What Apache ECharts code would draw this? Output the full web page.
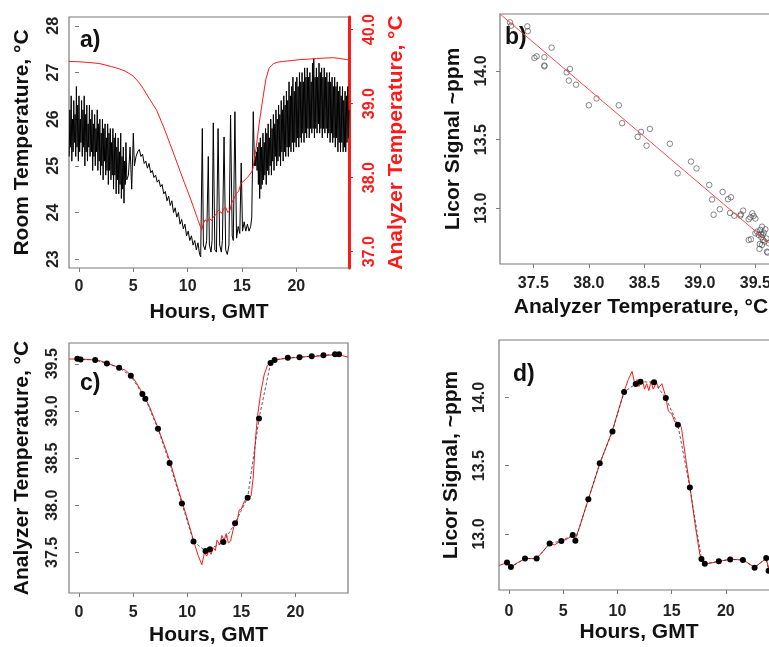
<!DOCTYPE html>
<html>
<head>
<meta charset="utf-8">
<script src="https://cdn.jsdelivr.net/npm/echarts@6/dist/echarts.min.js"></script>
<style>
  html, body { margin: 0; padding: 0; background: #fff; }
  #chart { width: 769px; height: 647px; }
</style>
</head>
<body>
<div id="chart"></div>
<script>
// tick labels
const hourTicks = [0, 5, 10, 15, 20];
const roomTicks = [23, 24, 25, 26, 27, 28];
const analyzerTicksA = [37, 38, 39, 40];
const analyzerTicksC = [37.5, 38, 38.5, 39, 39.5];
const scatterTempTicks = [37.5, 38, 38.5, 39, 39.5];
const licorTicks = [13, 13.5, 14];

// a) room temperature [hour, °C]
const roomTemp = [
  [-0.90, 25.2], [-0.84, 26.2], [-0.78, 25.4], [-0.72, 26.5], [-0.66, 25.1], [-0.60, 26.0], [-0.54, 25.3], [-0.48, 26.4],
  [-0.42, 25.5], [-0.36, 26.1], [-0.30, 25.2], [-0.24, 26.7], [-0.18, 25.4], [-0.12, 26.3], [-0.06, 25.1], [0.00, 26.5],
  [0.06, 25.3], [0.12, 26.0], [0.18, 25.5], [0.24, 26.4], [0.30, 25.2], [0.36, 26.2], [0.42, 25.4], [0.48, 26.5],
  [0.54, 25.0], [0.60, 26.1], [0.66, 25.3], [0.72, 26.3], [0.78, 25.1], [0.84, 25.9], [0.90, 25.4], [0.96, 26.3],
  [1.02, 25.2], [1.08, 26.0], [1.14, 25.3], [1.20, 26.2], [1.26, 24.9], [1.32, 25.9], [1.38, 25.2], [1.44, 26.1],
  [1.50, 25.0], [1.56, 25.8], [1.62, 25.3], [1.68, 26.2], [1.74, 24.9], [1.80, 25.9], [1.86, 25.1], [1.92, 26.0],
  [1.98, 24.8], [2.04, 25.7], [2.10, 25.0], [2.16, 26.0], [2.22, 24.7], [2.28, 25.8], [2.34, 25.1], [2.40, 25.9],
  [2.46, 24.8], [2.52, 25.6], [2.58, 24.9], [2.64, 25.9], [2.70, 24.6], [2.76, 25.7], [2.82, 24.9], [2.88, 25.8],
  [2.94, 24.7], [3.00, 25.5], [3.06, 24.8], [3.12, 25.8], [3.18, 24.5], [3.24, 25.6], [3.30, 24.8], [3.36, 25.7],
  [3.42, 24.4], [3.48, 25.4], [3.54, 24.7], [3.60, 25.6], [3.66, 24.4], [3.72, 25.3], [3.78, 24.6], [3.84, 25.7],
  [3.90, 24.3], [3.96, 25.2], [4.02, 24.5], [4.08, 25.4], [4.14, 24.2], [4.20, 25.1], [4.26, 24.6], [4.32, 25.5],
  [4.40, 24.7], [4.55, 24.8], [4.7, 25.4], [4.85, 24.5], [5.0, 25.7], [5.1, 25.0], [5.25, 25.2], [5.4, 25.3],
  [5.55, 25.35], [5.7, 25.2], [5.85, 25.25], [6.0, 25.05], [6.15, 25.1], [6.3, 24.95], [6.45, 25.05], [6.6, 24.85],
  [6.75, 24.9], [6.9, 24.75], [7.05, 24.8], [7.2, 24.65], [7.35, 24.7], [7.5, 24.55], [7.65, 24.6], [7.8, 24.4],
  [7.95, 24.45], [8.1, 24.25], [8.25, 24.35], [8.4, 24.15], [8.55, 24.25], [8.7, 24.0], [8.85, 24.1], [9.0, 23.9],
  [9.15, 24.0], [9.3, 23.75], [9.45, 23.85], [9.6, 23.65], [9.75, 23.75], [9.9, 23.5], [10.05, 23.6], [10.2, 23.4],
  [10.35, 23.5], [10.5, 23.3], [10.65, 23.4], [10.8, 23.2], [10.95, 23.35], [11.1, 23.1], [11.2, 23.05], [11.35, 25.8],
  [11.45, 23.3], [11.6, 23.2], [11.75, 23.4], [11.9, 25.2], [12.0, 23.3], [12.15, 23.15], [12.25, 23.4], [12.36, 25.92],
  [12.5, 23.2], [12.65, 23.15], [12.8, 25.8], [12.95, 23.3], [13.1, 23.15], [13.2, 23.4], [13.35, 25.62], [13.5, 23.2],
  [13.65, 23.1], [13.8, 23.3], [13.95, 26.09], [14.1, 23.5], [14.2, 23.4], [14.35, 26.16], [14.5, 23.45], [14.65, 23.7],
  [14.8, 23.55], [14.93, 25.06], [15.05, 23.6], [15.2, 23.8], [15.35, 23.6], [15.5, 23.75], [15.65, 23.6], [15.8, 23.7],
  [15.9, 23.9], [16.04, 26.16], [16.15, 25.0], [16.21, 25.2], [16.27, 25.0], [16.33, 25.3], [16.39, 24.9], [16.45, 25.4],
  [16.51, 24.6], [16.57, 25.5], [16.63, 24.3], [16.69, 25.6], [16.75, 24.5], [16.81, 25.4], [16.87, 24.6], [16.93, 25.7],
  [16.99, 24.7], [17.05, 25.5], [17.11, 24.8], [17.17, 25.8], [17.23, 24.6], [17.29, 25.7], [17.35, 24.9], [17.41, 25.9],
  [17.47, 24.8], [17.53, 25.6], [17.59, 25.0], [17.65, 26.0], [17.71, 24.8], [17.77, 25.8], [17.83, 25.1], [17.89, 26.1],
  [17.95, 24.9], [18.01, 25.9], [18.07, 25.2], [18.13, 26.2], [18.19, 25.0], [18.25, 26.0], [18.31, 25.1], [18.37, 26.3],
  [18.43, 25.2], [18.49, 26.1], [18.55, 25.0], [18.61, 26.4], [18.67, 25.3], [18.73, 26.2], [18.79, 25.1], [18.85, 26.5],
  [18.91, 25.3], [18.97, 26.3], [19.03, 25.2], [19.09, 26.6], [19.15, 25.4], [19.21, 26.4], [19.27, 25.2], [19.33, 26.8],
  [19.39, 25.4], [19.45, 26.5], [19.51, 25.3], [19.57, 26.7], [19.63, 25.5], [19.69, 26.9], [19.75, 25.3], [19.81, 26.6],
  [19.87, 25.5], [19.93, 26.8], [19.99, 25.4], [20.05, 26.9], [20.11, 25.6], [20.17, 26.7], [20.23, 25.4], [20.29, 27.0],
  [20.35, 25.6], [20.41, 26.8], [20.47, 25.5], [20.53, 27.0], [20.59, 25.7], [20.65, 26.8], [20.71, 25.5], [20.77, 27.1],
  [20.83, 25.7], [20.89, 26.9], [20.95, 25.6], [21.01, 27.1], [21.07, 25.8], [21.13, 26.9], [21.19, 25.6], [21.25, 27.0],
  [21.31, 25.8], [21.37, 26.8], [21.43, 25.7], [21.49, 27.2], [21.55, 25.8], [21.61, 27.3], [21.67, 25.6], [21.73, 26.9],
  [21.79, 25.8], [21.85, 27.1], [21.91, 25.7], [21.97, 26.9], [22.03, 25.9], [22.09, 27.2], [22.15, 25.7], [22.21, 27.0],
  [22.27, 25.8], [22.33, 27.1], [22.39, 25.6], [22.45, 26.9], [22.51, 25.8], [22.57, 27.1], [22.63, 25.7], [22.69, 26.9],
  [22.75, 25.8], [22.81, 27.0], [22.87, 25.6], [22.93, 26.8], [22.99, 25.7], [23.05, 27.0], [23.11, 25.5], [23.17, 26.8],
  [23.23, 25.7], [23.29, 26.9], [23.35, 25.5], [23.41, 26.7], [23.47, 25.6], [23.53, 26.9], [23.59, 25.4], [23.65, 26.7],
  [23.71, 25.6], [23.77, 26.8], [23.83, 25.3], [23.89, 26.6], [23.95, 25.5], [24.01, 26.7], [24.07, 25.3], [24.13, 26.5],
  [24.19, 25.5], [24.25, 26.7], [24.31, 25.3], [24.37, 26.4], [24.43, 25.4], [24.49, 26.6], [24.55, 25.3], [24.61, 26.5],
  [24.67, 25.5], [24.73, 26.7], [24.79, 25.6], [24.85, 26.2]
];

// a) analyzer temperature, right axis [hour, °C]
const analyzerTempA = [
  [-0.92, 39.57], [0, 39.565], [1, 39.555], [1.93, 39.54], [3, 39.5], [3.7, 39.47], [4.23, 39.44], [4.6, 39.41],
  [5.0, 39.37], [5.5, 39.29], [5.92, 39.2], [6.5, 39.06], [7.15, 38.91], [7.8, 38.68], [8.37, 38.46], [9.0, 38.21],
  [9.6, 37.97], [10.1, 37.78], [10.52, 37.61], [10.9, 37.45], [11.29, 37.29], [11.45, 37.38], [11.6, 37.43], [11.8, 37.41],
  [12.0, 37.45], [12.2, 37.42], [12.36, 37.47], [12.6, 37.5], [12.8, 37.56], [12.98, 37.58], [13.15, 37.52], [13.3, 37.58],
  [13.5, 37.6], [13.7, 37.53], [13.9, 37.56], [14.05, 37.66], [14.2, 37.7], [14.5, 37.79], [14.7, 37.82], [14.9, 37.92],
  [15.28, 37.97], [15.6, 38.02], [15.9, 38.08], [16.0, 38.12], [16.3, 38.4], [16.6, 38.75], [16.9, 39.05], [17.2, 39.33],
  [17.5, 39.48], [17.9, 39.54], [18.3, 39.56], [18.8, 39.57], [19.5, 39.58], [20.34, 39.595], [21.1, 39.6], [21.87, 39.61],
  [22.6, 39.615], [23.4, 39.62], [24.0, 39.61], [24.6, 39.595], [24.85, 39.59]
];

// b) licor signal vs analyzer temperature [°C, ppm]
const scatterPoints = [
  [37.29, 14.354], [37.30, 14.33], [37.446, 14.325], [37.45, 14.29], [37.665, 14.17], [37.51, 14.095], [37.53, 14.107],
  [37.60, 14.10], [37.60, 14.04], [37.60, 14.034], [37.80, 13.99], [37.83, 14.015], [37.82, 13.93], [37.885, 13.90],
  [38.00, 13.75], [38.07, 13.80], [38.27, 13.75], [38.30, 13.62], [38.44, 13.52], [38.47, 13.556], [38.52, 13.456],
  [38.55, 13.578], [38.73, 13.47], [38.80, 13.255], [38.92, 13.34], [38.97, 13.29], [39.085, 13.17], [39.11, 13.064],
  [39.124, 12.953], [39.18, 12.993], [39.205, 13.119], [39.254, 13.066], [39.28, 13.08], [39.272, 12.966], [39.31, 12.946],
  [39.365, 12.946], [39.37, 12.956], [39.39, 12.983], [39.44, 12.92], [39.455, 12.934], [39.473, 12.963], [39.485, 12.944],
  [39.50, 12.925], [39.44, 12.769], [39.46, 12.774], [39.5, 12.818], [39.515, 12.83], [39.53, 12.806], [39.545, 12.842],
  [39.56, 12.866], [39.575, 12.822], [39.59, 12.847], [39.554, 12.789], [39.57, 12.769], [39.54, 12.74], [39.537, 12.704],
  [39.56, 12.733], [39.584, 12.757], [39.6, 12.78], [39.605, 12.684], [39.61, 12.677], [39.62, 12.745], [39.55, 12.813],
  [39.566, 12.806]
];
const fitLine = [[37.2, 14.415], [39.74, 12.669]];

// c) analyzer temperature, hourly means and trace [hour, °C]
const analyzerDots = [
  [-0.15, 39.553], [0.15, 39.546], [1.5, 39.54], [2.58, 39.504], [3.71, 39.457], [4.79, 39.372], [5.86, 39.18],
  [6.13, 39.13], [7.3, 38.81], [8.37, 38.447], [9.51, 38.018], [10.58, 37.617], [11.69, 37.514], [12.09, 37.535],
  [13.34, 37.61], [14.42, 37.81], [15.58, 38.08], [16.63, 38.92], [17.7, 39.507], [18.07, 39.54], [19.29, 39.564],
  [20.37, 39.57], [21.5, 39.58], [22.58, 39.59], [23.65, 39.6], [24.02, 39.6]
];
const analyzerTrace = [
  [-0.9, 39.55], [0, 39.55], [1, 39.545], [2, 39.53], [3, 39.49], [3.7, 39.46], [4.3, 39.43], [4.8, 39.38],
  [5.3, 39.3], [5.9, 39.18], [6.5, 39.05], [7.3, 38.82], [8.0, 38.6], [8.5, 38.43], [9.0, 38.23], [9.6, 38.01],
  [10.1, 37.82], [10.6, 37.62], [11.0, 37.47], [11.35, 37.37], [11.6, 37.5], [11.8, 37.46], [12.0, 37.52], [12.2, 37.48],
  [12.4, 37.55], [12.6, 37.52], [12.75, 37.63], [13.0, 37.58], [13.2, 37.68], [13.4, 37.63], [13.6, 37.7], [13.8, 37.6],
  [14.0, 37.62], [14.3, 37.77], [14.6, 37.82], [14.8, 37.95], [15.0, 37.96], [15.3, 38.05], [15.6, 38.07], [15.9, 38.1],
  [16.1, 38.3], [16.3, 38.7], [16.5, 38.95], [16.8, 39.2], [17.1, 39.38], [17.4, 39.48], [17.7, 39.52], [18.1, 39.54],
  [19, 39.555], [20, 39.565], [21, 39.575], [22, 39.58], [23, 39.59], [24, 39.595], [24.85, 39.57]
];

// d) licor signal, hourly means and trace [hour, ppm]
const licorDots = [
  [-0.18, 12.792], [0.18, 12.758], [1.48, 12.82], [2.55, 12.82], [3.75, 12.93], [4.83, 12.949], [5.88, 12.993],
  [6.12, 12.951], [7.32, 13.254], [8.37, 13.518], [9.54, 13.75], [10.62, 14.04], [11.69, 14.098], [12.12, 14.115],
  [13.38, 14.11], [14.46, 13.995], [15.57, 13.8], [16.68, 13.34], [17.75, 12.817], [18.06, 12.782], [19.35, 12.8],
  [20.4, 12.814], [21.57, 12.81], [22.65, 12.753], [23.72, 12.824], [23.94, 12.73]
];
const licorTrace = [
  [-0.9, 12.77], [-0.2, 12.79], [0.2, 12.76], [0.8, 12.79], [1.5, 12.82], [2.5, 12.82], [3.0, 12.86], [3.75, 12.93],
  [4.2, 12.92], [4.8, 12.95], [5.3, 12.96], [5.9, 12.99], [6.1, 12.96], [6.5, 13.05], [7.3, 13.25], [8.4, 13.52],
  [9.5, 13.75], [10.6, 14.04], [11.0, 14.13], [11.35, 14.19], [11.6, 14.1], [11.8, 14.13], [12.0, 14.08], [12.3, 14.13],
  [12.5, 14.06], [12.7, 14.1], [12.9, 14.05], [13.1, 14.12], [13.3, 14.06], [13.6, 14.11], [13.8, 14.07], [14.1, 14.1],
  [14.4, 14.02], [14.7, 13.9], [15.0, 13.88], [15.3, 13.82], [15.7, 13.81], [15.9, 13.78], [16.3, 13.55], [16.7, 13.34],
  [17.2, 13.05], [17.6, 12.85], [17.9, 12.78], [18.5, 12.785], [19.4, 12.8], [20.4, 12.815], [21.6, 12.81], [22.0, 12.79],
  [22.65, 12.755], [23.2, 12.79], [23.7, 12.82], [24.0, 12.74], [24.9, 12.76]
];

const font = "'Liberation Sans', Arial, sans-serif";
const frame = '#7a7a7a';
const ink = '#111';
const red = '#ff1a1a';

function textStyle(size, color) {
  return { fontFamily: font, fontWeight: 'bold', fontSize: size, color: color || ink };
}

function xAxisFor(gridIndex, min, max, ticks, decimals, title, margin, nameGap) {
  return {
    type: 'value', gridIndex, min, max,
    name: title, nameLocation: 'middle', nameGap,
    nameTextStyle: textStyle(21),
    axisLine: { show: false },
    axisTick: { show: true, length: 4, customValues: ticks, lineStyle: { color: frame } },
    axisLabel: Object.assign({ customValues: ticks, margin, formatter: v => v.toFixed(decimals) }, textStyle(16, '#222')),
    splitLine: { show: false }
  };
}

function yAxisFor(gridIndex, min, max, ticks, decimals, title, margin, nameGap, color, position) {
  const c = color || frame;
  return {
    type: 'value', gridIndex, min, max, position: position || 'left',
    name: title, nameLocation: 'middle', nameGap, nameRotate: 90,
    nameTextStyle: textStyle(21, color),
    axisLine: { show: !!color, lineStyle: { color: c, width: 3 } },
    axisTick: { show: true, length: 4, customValues: ticks, lineStyle: { color: c } },
    axisLabel: Object.assign({ customValues: ticks, margin, rotate: 90, formatter: v => v.toFixed(decimals) }, textStyle(16, color || '#222')),
    splitLine: { show: false }
  };
}

const chart = echarts.init(document.getElementById('chart'));

const gridBase = { show: true, borderColor: frame, borderWidth: 1.2, backgroundColor: 'transparent', outerBoundsMode: 'none' };

chart.setOption({
  animation: false,
  backgroundColor: '#fff',
  grid: [
    Object.assign({ left: 69, top: 17, width: 280, height: 251 }, gridBase),
    Object.assign({ left: 500, top: 14, width: 282, height: 250 }, gridBase),
    Object.assign({ left: 69, top: 343, width: 279, height: 250 }, gridBase),
    Object.assign({ left: 499, top: 340, width: 280, height: 250 }, gridBase)
  ],
  xAxis: [
    xAxisFor(0, -0.92, 24.85, hourTicks, 0, 'Hours, GMT', 11, 34),
    xAxisFor(1, 37.2, 39.74, scatterTempTicks, 1, 'Analyzer Temperature, °C', 12, 33),
    xAxisFor(2, -0.92, 24.85, hourTicks, 0, 'Hours, GMT', 12, 32),
    xAxisFor(3, -0.92, 24.9, hourTicks, 0, 'Hours, GMT', 14, 32)
  ],
  yAxis: [
    yAxisFor(0, 22.81, 28.19, roomTicks, 0, 'Room Temperature, °C', 7, 36),
    yAxisFor(0, 36.78, 40.17, analyzerTicksA, 1, 'Analyzer Temperature, °C', 13, 37, red, 'right'),
    yAxisFor(1, 12.594, 14.415, licorTicks, 1, 'Licor Signal ~ppm', 10, 36),
    yAxisFor(2, 37.07, 39.72, analyzerTicksC, 1, 'Analyzer Temperature, °C', 8, 36),
    yAxisFor(3, 12.59, 14.42, licorTicks, 1, 'Licor Signal, ~ppm', 11, 37)
  ],
  graphic: [
    { type: 'text', left: 80, top: 29, style: { text: 'a)', font: 'bold 23px ' + font, fill: ink } },
    { type: 'text', left: 505, top: 26, style: { text: 'b)', font: 'bold 23px ' + font, fill: ink } },
    { type: 'text', left: 80, top: 372, style: { text: 'c)', font: 'bold 23px ' + font, fill: ink } },
    { type: 'text', left: 513, top: 363, style: { text: 'd)', font: 'bold 23px ' + font, fill: ink } }
  ],
  series: [
    {
      type: 'line', xAxisIndex: 0, yAxisIndex: 0, data: roomTemp, showSymbol: false,
      lineStyle: { color: '#000', width: 1 }, z: 2
    },
    {
      type: 'line', xAxisIndex: 0, yAxisIndex: 1, data: analyzerTempA, showSymbol: false,
      lineStyle: { color: red, width: 1 }, z: 3
    },
    {
      type: 'scatter', xAxisIndex: 1, yAxisIndex: 2, data: scatterPoints, symbol: 'circle', symbolSize: 5.5,
      itemStyle: { color: 'rgba(0,0,0,0)', borderColor: '#444', borderWidth: 0.8 }, z: 2
    },
    {
      type: 'line', xAxisIndex: 1, yAxisIndex: 2, data: fitLine, showSymbol: false,
      lineStyle: { color: '#ff4a4a', width: 1 }, z: 3
    },
    {
      type: 'line', xAxisIndex: 2, yAxisIndex: 3, data: analyzerTrace, showSymbol: false,
      lineStyle: { color: red, width: 1 }, z: 2
    },
    {
      type: 'line', xAxisIndex: 2, yAxisIndex: 3, data: analyzerDots, symbol: 'circle', symbolSize: 6,
      itemStyle: { color: '#000' }, lineStyle: { color: '#333', width: 0.8, type: [3, 2] }, z: 3
    },
    {
      type: 'line', xAxisIndex: 3, yAxisIndex: 4, data: licorTrace, showSymbol: false,
      lineStyle: { color: red, width: 1 }, z: 2
    },
    {
      type: 'line', xAxisIndex: 3, yAxisIndex: 4, data: licorDots, symbol: 'circle', symbolSize: 6,
      itemStyle: { color: '#000' }, lineStyle: { color: '#333', width: 0.8, type: [3, 2] }, z: 3
    }
  ]
});
</script>
</body>
</html>
